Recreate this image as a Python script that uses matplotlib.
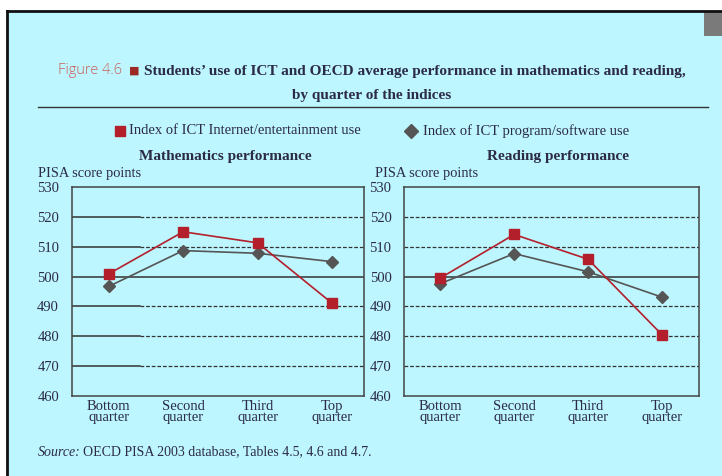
import matplotlib
matplotlib.use("Agg")
import matplotlib.pyplot as plt
from matplotlib.lines import Line2D
from matplotlib.patches import Rectangle

# data
quarters = ["Bottom\nquarter", "Second\nquarter", "Third\nquarter", "Top\nquarter"]
math_internet = [500.9, 515.0, 511.3, 491.1]
math_program = [496.7, 508.7, 507.8, 505.0]
read_internet = [499.5, 514.1, 505.8, 480.5]
read_program = [497.6, 507.7, 501.6, 493.1]
yticks = [460, 470, 480, 490, 500, 510, 520, 530]

BG = "#bdf6fe"
RED = "#b3202c"
GREY = "#555555"
TXT = "#2b2b45"
SERIF = "Liberation Serif"

W, H = 722, 476


def fx(px):
    return px / W


def fy(py):
    return 1 - py / H


fig = plt.figure(figsize=(7.22, 4.76), dpi=100)
fig.patch.set_facecolor("white")

# cyan page with black top/left border, cut off at right and bottom
fig.add_artist(Rectangle((fx(6), 0), 1, fy(10), transform=fig.transFigure,
                         facecolor=BG, edgecolor="none", zorder=0))
fig.add_artist(Line2D([fx(6.5), fx(6.5)], [0, fy(10.5)], transform=fig.transFigure,
                      color="#111111", lw=2))
fig.add_artist(Line2D([fx(6.5), 1], [fy(10.5), fy(10.5)], transform=fig.transFigure,
                      color="#111111", lw=2))
fig.add_artist(Rectangle((fx(704), fy(36)), fx(18), fy(12) - fy(36),
                         transform=fig.transFigure, facecolor="#7a7a7a",
                         edgecolor="none"))

# title
fig.text(fx(58), fy(71), "Figure 4.6", color="#c8605a", fontsize=10.5,
         family="Open Sans", fontweight="light", va="center")
fig.text(fx(129), fy(71), "\u25A0", color="#9b2a25", fontsize=8,
         family="DejaVu Sans", va="center")
fig.text(fx(144), fy(71),
         "Students\u2019 use of ICT and OECD average performance in mathematics and reading,",
         color=TXT, fontsize=11, family=SERIF, fontweight="bold", va="center")
fig.text(fx(372), fy(95), "by quarter of the indices", color=TXT, fontsize=11,
         family=SERIF, fontweight="bold", va="center", ha="center")
fig.add_artist(Line2D([fx(38), fx(708)], [fy(107), fy(107)], transform=fig.transFigure,
                      color="#333333", lw=1))

# legend drawn by hand
fig.add_artist(Line2D([fx(120)], [fy(131)], transform=fig.transFigure, marker="s",
                      markersize=7.5, color=RED, linestyle="none"))
fig.text(fx(129), fy(131), "Index of ICT Internet/entertainment use", color=TXT,
         fontsize=10.5, family=SERIF, va="center")
fig.add_artist(Line2D([fx(411)], [fy(131)], transform=fig.transFigure, marker="D",
                      markersize=7, color=GREY, linestyle="none"))
fig.text(fx(423), fy(131), "Index of ICT program/software use", color=TXT,
         fontsize=10.5, family=SERIF, va="center")

panels = [
    ("Mathematics performance", math_internet, math_program, 71.5, 364, 38, 225,
     (-0.5, 3.43), True),
    ("Reading performance", read_internet, read_program, 404, 699, 375, 558,
     (-0.49, 3.5), False),
]

x = list(range(len(quarters)))
for title, red_vals, grey_vals, left, right, lab_x, title_x, xlim, solid_start in panels:
    ax = fig.add_axes([fx(left), fy(396), fx(right) - fx(left), fy(187) - fy(396)])
    ax.set_facecolor("none")
    ax.set_xlim(*xlim)
    ax.set_ylim(460, 530)

    # gridlines: 500 solid, others dashed (math panel starts solid)
    for v in yticks[1:-1]:
        if v == 500:
            ax.axhline(v, color="#333333", lw=1.1, zorder=1)
            continue
        if solid_start:
            ax.axhline(v, xmin=0, xmax=0.235, color="#333333", lw=1.1, zorder=1)
            ax.axhline(v, xmin=0.235, xmax=1, color="#333333", lw=0.9,
                       linestyle=(0, (3, 1.5)), zorder=1)
        else:
            ax.axhline(v, color="#333333", lw=0.9, linestyle=(0, (3, 1.5)), zorder=1)

    ax.plot(x, grey_vals, color=GREY, lw=1.2, marker="D", markersize=6.5, zorder=3)
    ax.plot(x, red_vals, color=RED, lw=1.2, marker="s", markersize=7.5, zorder=4)

    ax.set_yticks(yticks)
    ax.set_xticks(x)
    ax.set_xticklabels(quarters, linespacing=0.8)
    ax.tick_params(length=0, colors=TXT, labelsize=10.5)
    ax.tick_params(axis="y", pad=9)
    ax.tick_params(axis="x", pad=3)
    for lbl in ax.get_xticklabels() + ax.get_yticklabels():
        lbl.set_family(SERIF)
    for s in ax.spines.values():
        s.set_color("#444444")
        s.set_linewidth(1.1)

    fig.text(fx(title_x), fy(157), title, color=TXT, fontsize=11, family=SERIF,
             fontweight="bold", ha="center", va="center")
    fig.text(fx(lab_x), fy(173), "PISA score points", color=TXT, fontsize=10.4,
             family=SERIF, va="center")

# source line
fig.text(fx(38), fy(452), "Source:", color=TXT, fontsize=10, family=SERIF,
         style="italic", va="center")
fig.text(fx(83), fy(452), "OECD PISA 2003 database, Tables 4.5, 4.6 and 4.7.",
         color=TXT, fontsize=10, family=SERIF, va="center")

fig.savefig("out.png", dpi=100)
